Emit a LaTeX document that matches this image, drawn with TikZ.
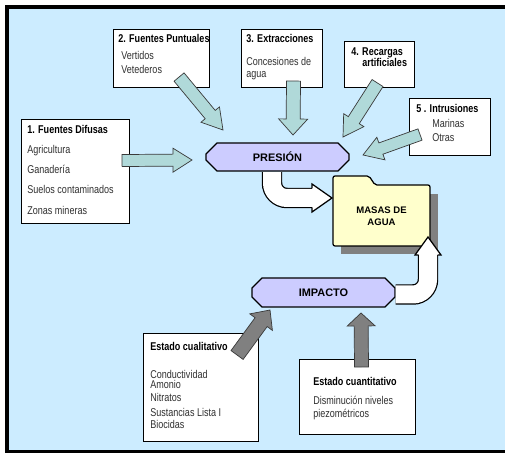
\documentclass[tikz,border=0pt]{standalone}
\usepackage{fontspec}
\setmainfont{Liberation Sans}[FakeStretch=0.8]
\newfontfamily\rotulo{Liberation Sans}
\usetikzlibrary{calc,shapes.misc}

\newdimen\pxl \pxl=0.5669pt

\definecolor{fondo}{HTML}{CCECFF}
\definecolor{verde}{HTML}{B0D9D9}
\definecolor{lila}{HTML}{CCCCFF}
\definecolor{crema}{HTML}{FFFFCC}
\definecolor{sombra}{HTML}{808080}
\definecolor{borde}{HTML}{3A3A3A}
\definecolor{letra}{HTML}{303030}

\tikzset{
  caja/.style={draw, fill=white, line width=0.6pt, anchor=north west, inner sep=0pt},
  texto/.style={anchor=base west, inner sep=0pt, text=letra, font=\fontsize{6.4}{7}\selectfont},
  titulo/.style={texto, text=black, font=\fontsize{6.4}{7}\selectfont\bfseries},
  etapa/.style={chamfered rectangle, chamfered rectangle angle=45, chamfered rectangle xsep=8\pxl,
    draw, fill=lila, line width=0.7pt, minimum width=143\pxl, minimum height=28\pxl, inner sep=0pt,
    font=\rotulo\fontsize{6.2}{7}\selectfont\bfseries},
  bloque/.style n args={3}{line width=0.4pt, draw=borde, to path={
    let \p1=(\tikztostart), \p2=(\tikztotarget),
        \n1={atan2(\y2-\y1,\x2-\x1)}, \n2={veclen(\x2-\x1,\y2-\y1)} in
    (\p1) ++({\n1+90}:{#1*\pxl}) -- ++({\n1}:{\n2-#3*\pxl}) -- ++({\n1+90}:{(#2-#1)*\pxl}) -- (\p2)
    -- ($(\p1)+({\n1}:{\n2-#3*\pxl})+({\n1-90}:{#2*\pxl})$) -- ++({\n1+90}:{(#2-#1)*\pxl})
    -- ++({\n1+180}:{\n2-#3*\pxl}) -- cycle}},
  flechaverde/.style={bloque={6}{12}{19}, fill=verde},
  flechagris/.style={bloque={7.5}{14}{15}, fill=sombra},
  blanca/.style={draw=black, double=white, double distance=18\pxl, line width=0.7pt, rounded corners=15\pxl},
  punta/.style={draw=black, fill=white, line width=0.7pt},
}

\begin{document}
\begin{tikzpicture}[x=\pxl, y=-\pxl]
	\useasboundingbox (0,0) rectangle (505,453);
	\begin{scope}
		\clip (0,0) rectangle (505,453);
		\draw[fill=fondo, line width=4\pxl] (7,7) rectangle (530,451.5);
	\end{scope}

	% cajas de presiones
	\node[caja, minimum width=108\pxl, minimum height=104\pxl] (difusas) at (21,119) {};
	\node[caja, minimum width=96\pxl, minimum height=58\pxl] (puntuales) at (113,29) {};
	\node[caja, minimum width=81\pxl, minimum height=58\pxl] (extracciones) at (241,29) {};
	\node[caja, minimum width=70\pxl, minimum height=46\pxl] (recargas) at (344,41) {};
	\node[caja, minimum width=81\pxl, minimum height=57\pxl] (intrusiones) at (409,98) {};

	\node[titulo] (dif0) at (27,134) {1. Fuentes Difusas};
	\node[texto] (dif1) at (27,154) {Agricultura};
	\node[texto] (dif2) at (27,174) {Ganadería};
	\node[texto] (dif3) at (27,194) {Suelos contaminados};
	\node[texto] (dif4) at (27,215) {Zonas mineras};

	\node[titulo] (pun0) at (118,43) {2. Fuentes Puntuales};
	\node[texto] (pun1) at (121,60) {Vertidos};
	\node[texto] (pun2) at (121,74) {Vetederos};

	\node[titulo] (ext0) at (246,43) {3. Extracciones};
	\node[texto] (ext1) at (246,66) {Concesiones de};
	\node[texto] (ext2) at (246,78) {agua};

	\node[titulo] (rec0) at (351,56) {4. Recargas};
	\node[titulo] (rec1) at (362,67) {artificiales};

	\node[titulo] (int0) at (416,113) {5 . Intrusiones};
	\node[texto] (int1) at (432,128) {Marinas};
	\node[texto] (int2) at (432,142) {Otras};

	% cajas de impactos
	\node[caja, minimum width=115\pxl, minimum height=108\pxl] (cualitativo) at (143,333) {};
	\node[caja, minimum width=116\pxl, minimum height=75\pxl] (cuantitativo) at (299,359) {};

	\node[titulo] (cua0) at (150,351) {Estado cualitativo};
	\node[texto] (cua1) at (150,378) {Conductividad};
	\node[texto] (cua2) at (150,388) {Amonio};
	\node[texto] (cua3) at (150,401) {Nitratos};
	\node[texto] (cua4) at (150,416) {Sustancias Lista I};
	\node[texto] (cua5) at (150,428) {Biocidas};

	\node[titulo] (can0) at (313,385) {Estado cuantitativo};
	\node[texto] (can1) at (313,404) {Disminución niveles};
	\node[texto] (can2) at (313,417) {piezométricos};

	% etapas
	\node[etapa] (presion) at (277.5,157) {PRESIÓN};
	\node[etapa, minimum height=29\pxl] (impacto) at (323.5,292.5) {IMPACTO};

	% carpeta
	\coordinate (carpeta) at (333,246);
	\fill[sombra] ($(carpeta)+(8,8)$) rectangle ++(97,-60);
	\filldraw[fill=crema, line width=0.7pt, rounded corners=2\pxl] (carpeta) -- ++(0,-70) -- ++(36,0)
		-- ++(6,9) -- ++(55,0) -- ++(0,61) -- cycle;
	\node[inner sep=0pt, align=center, font=\rotulo\fontsize{5.4}{6.6}\selectfont\bfseries] (masas)
		at (381.5,216) {MASAS DE\\AGUA};

	% flechas de presiones
	\draw[flechaverde] ($(difusas.east)+(-8,-11)$) to ($(presion)+(-85.5,3)$);
	\draw[flechaverde, bloque={6.5}{12}{20}] ($(puntuales.south east)+(-31,-11)$) to ($(presion)+(-54.5,-27)$);
	\draw[flechaverde, bloque={7}{14.5}{16}] ($(extracciones.south)+(11.5,-7)$) to ($(presion)+(15.5,-22)$);
	\draw[flechaverde, bloque={6.5}{12}{20}] ($(recargas.south)+(-2,-5)$) to ($(presion)+(65.5,-20)$);
	\draw[flechaverde] ($(intrusiones.west)+(11,7.5)$) to ($(presion)+(85.5,-2)$);

	% flechas de impactos
	\draw[flechagris] ($(cualitativo.north east)+(-22,22)$) to ($(impacto)+(-53.5,17.5)$);
	\draw[flechagris, bloque={7}{14}{13}] ($(cuantitativo.north)+(4,8)$) to ($(impacto)+(37.5,20.5)$);

	% flechas blancas
	\coordinate (b1) at ($(masas)+(-49.5,-18)$);
	\draw[blanca] ($(presion.south)+(-5.5,0.5)$) |- ($(b1)+(-20,0)$);
	\filldraw[punta] ($(b1)+(-20,-9.5)$) -- ($(b1)+(-20,-14)$) -- (b1) -- ($(b1)+(-20,14)$) -- ($(b1)+(-20,9.5)$);

	\coordinate (b2) at ($(masas)+(46.5,21)$);
	\draw[blanca] ($(impacto.east)+(0,2)$) -| ($(b2)+(0,18)$);
	\filldraw[punta] ($(b2)+(-9.5,18)$) -- ($(b2)+(-13,18)$) -- (b2) -- ($(b2)+(13,18)$) -- ($(b2)+(9.5,18)$);
\end{tikzpicture}
\end{document}
